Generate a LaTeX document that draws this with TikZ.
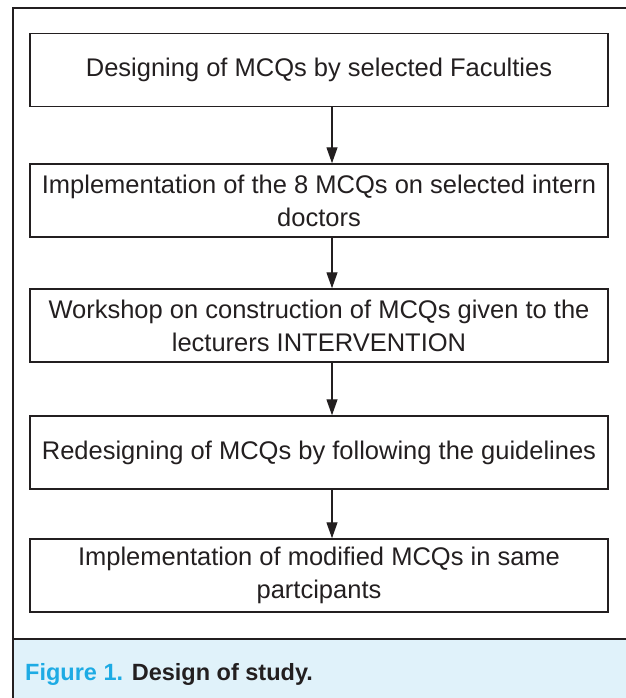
\documentclass[tikz,border=0pt]{standalone}
\usepackage{fontspec}
\setmainfont{Liberation Sans}
\usetikzlibrary{arrows.meta}

\definecolor{frameGray}{HTML}{231F20}
\definecolor{captionBlue}{HTML}{E0F2FA}
\definecolor{figBlue}{HTML}{1DABE4}

\begin{document}
\begin{tikzpicture}[x=1pt,y=-1pt,
    stageBox/.style={draw=frameGray, line width=1.5pt, minimum width=578pt,
      minimum height=73pt, inner sep=0pt, align=center, text=frameGray,
      font=\fontsize{25.5}{33}\selectfont},
    flowArrow/.style={draw=frameGray, line width=1.3pt,
      -{Triangle[length=16pt,width=11pt]}}]
  \useasboundingbox (0,0) rectangle (625,698);

  % Caption band and outer frame
  \fill[captionBlue] (14,639) rectangle (627,700);
  \draw[frameGray, line width=2pt] (13,700) -- (13,8) -- (627,8);
  \draw[frameGray, line width=2.5pt] (13,639) -- (627,639);

  % Stages of the study
  \node[stageBox] (designing) at (319,70) {Designing of MCQs by selected Faculties};
  \node[stageBox] (firstTest) at (319,200.5) {Implementation of the 8 MCQs on selected intern\\doctors};
  \node[stageBox] (workshop) at (319,325.5) {Workshop on construction of MCQs given to the\\lecturers INTERVENTION};
  \node[stageBox] (redesigning) at (319,452.5) {Redesigning of MCQs by following the guidelines};
  \node[stageBox] (secondTest) at (319,575.5) {Implementation of modified MCQs in same\\partcipants};

  % Arrows between stages
  \draw[flowArrow] ([xshift=13pt]designing.south) -- ([xshift=13pt]firstTest.north);
  \draw[flowArrow] ([xshift=13pt]firstTest.south) -- ([xshift=13pt]workshop.north);
  \draw[flowArrow] ([xshift=13pt]workshop.south) -- ([xshift=13pt]redesigning.north);
  \draw[flowArrow] ([xshift=13pt]redesigning.south) -- ([xshift=13pt]secondTest.north);

  % Caption
  \node[anchor=base west, inner sep=0pt, text=frameGray,
    font=\fontsize{23.5}{27}\selectfont\bfseries] (caption) at (25,680)
    {\textcolor{figBlue}{Figure 1.} Design of study.};
\end{tikzpicture}
\end{document}
